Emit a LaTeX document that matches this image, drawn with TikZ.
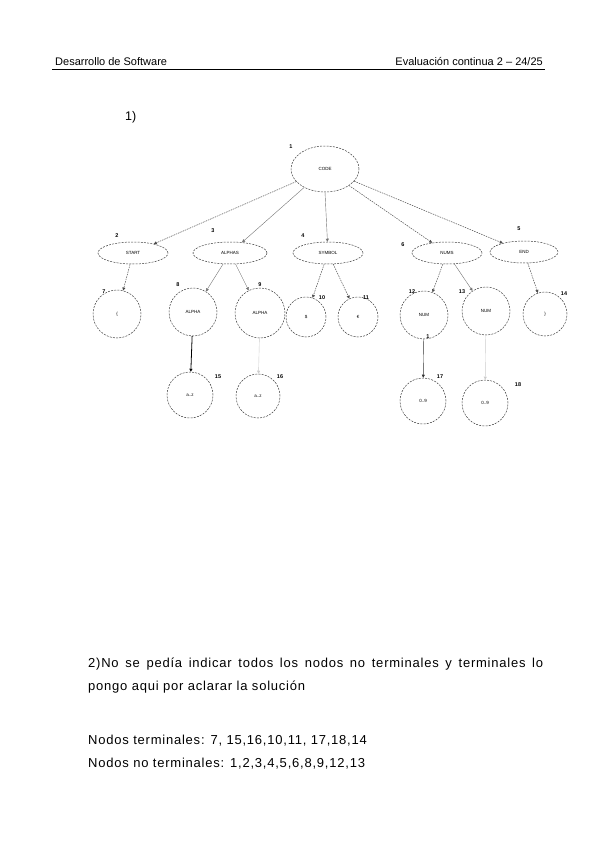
\documentclass[tikz,border=0pt]{standalone}
\usepackage{fontspec}
\setmainfont{Liberation Sans}
\setsansfont{Liberation Sans}
\newfontfamily\bodyfont[LetterSpace=6]{Liberation Sans}
\usetikzlibrary{arrows.meta}
\tikzset{
  ell/.style={draw=black!75, dash pattern=on 2pt off 1.2pt, line width=0.5pt, ellipse, minimum width=70pt, minimum height=22pt, inner sep=0pt, font=\fontsize{4.5}{5}\selectfont},
  circ/.style={draw=black!75, dash pattern=on 2pt off 1.2pt, line width=0.5pt, circle, inner sep=0pt, font=\fontsize{4.5}{5}\selectfont},
  num/.style={font=\fontsize{5.5}{6}\selectfont\bfseries, inner sep=0pt},
  dedge/.style={draw=black!70, dash pattern=on 1.5pt off 1pt, line width=0.5pt, -{Triangle[length=3pt,width=3pt]}},
  sedge/.style={draw=black!55, line width=0.4pt, -{Triangle[length=3pt,width=3pt]}},
  bedge/.style={draw=black, line width=0.8pt, -{Triangle[length=3pt,width=3pt]}},
  gedge/.style={draw=black!20, line width=0.4pt, -{Triangle[length=3pt,width=3pt]}},
  body/.style={font=\bodyfont\fontsize{13}{23}\selectfont, inner sep=0pt, anchor=base west}
}
\usetikzlibrary{shapes.geometric}
\begin{document}
\begin{tikzpicture}[x=1pt,y=-1pt]
\useasboundingbox (0,0) rectangle (600,848);
% header
\node[font=\fontsize{11}{12}\selectfont, anchor=base west, inner sep=0pt] (hl) at (55,66) {Desarrollo de Software};
\node[font=\fontsize{11}{12}\selectfont, anchor=base east, inner sep=0pt] (hr) at (543,66) {Evaluación continua 2 -- 24/25};
\coordinate (r1) at (52,69.5);
\coordinate (r2) at (545,69.5);
\draw[line width=1.8pt] (r1) -- (r2);
\node[font=\fontsize{12.5}{13}\selectfont, anchor=base west, inner sep=0pt] (q1) at (125,121) {1)};

% level 0
\node[ell, minimum width=68pt, minimum height=46pt] (code) at (325,169) {CODE};
\node[num] (l1) at (291,147) {1};
% level 1
\node[ell] (start) at (133,253) {START};
\node[num] (l2) at (117,236) {2};
\node[ell, minimum width=74pt] (alphas) at (230,253) {ALPHAS};
\node[num] (l3) at (213,231) {3};
\node[ell, minimum width=70pt] (symbol) at (328,253) {SYMBOL};
\node[num] (l4) at (303,236) {4};
\node[ell] (nums) at (447,253) {NUMS};
\node[num] (l6) at (403,245) {6};
\node[ell, minimum width=68pt] (endn) at (524,252) {END};
\node[num] (l5) at (519,229) {5};
% level 2
\node[circ, minimum size=48pt] (lb) at (117,314) {\{};
\node[num] (l7) at (104,292) {7};
\node[circ, minimum size=48pt] (a8) at (193,312) {ALPHA};
\node[num] (l8) at (178,285) {8};
\node[circ, minimum size=50pt] (a9) at (260,313) {ALPHA};
\node[num] (l9) at (260,285) {9};
\node[circ, minimum size=40pt] (dol) at (306,317) {\$};
\node[num] (l10) at (322,298) {10};
\node[circ, minimum size=40pt] (eur) at (358,317) {€};
\node[num] (l11) at (366,298) {11};
\node[circ, minimum size=48pt] (n12) at (424,315) {NUM};
\node[num] (l12) at (412,292) {12};
\node[num] (l1b) at (428,337) {1};
\node[circ, minimum size=48pt] (n13) at (486,311) {NUM};
\node[num] (l13) at (462,292) {13};
\node[circ, minimum size=44pt] (rb) at (545,314) {\}};
\node[num] (l14) at (564,294) {14};
% level 3
\node[circ, minimum size=46pt] (z15) at (190,395) {a..z};
\node[num] (l15) at (218,377) {15};
\node[circ, minimum size=44pt] (z16) at (258,396) {a..z};
\node[num] (l16) at (280,377) {16};
\node[circ, minimum size=46pt] (d17) at (423,401) {0..9};
\node[num] (l17) at (440,377) {17};
\node[circ, minimum size=46pt] (d18) at (485,403) {0..9};
\node[num] (l18) at (518,385) {18};

% edges
\draw[dedge] (code) -- (start);
\draw[sedge] (code) -- (alphas);
\draw[sedge] (code.south) -- (symbol);
\draw[dedge] (code) -- (nums);
\draw[dedge] (code) -- (endn);
\draw[dedge] (start) -- (lb);
\draw[sedge] (alphas) -- (a8);
\draw[sedge] (alphas) -- (a9);
\draw[dedge] (symbol) -- (dol);
\draw[dedge] (symbol) -- (eur);
\draw[dedge] (nums) -- (n12);
\draw[sedge] (nums) -- (n13);
\draw[dedge] (endn) -- (rb);
\draw[bedge] (a8) -- (z15);
\draw[gedge] (a9) -- (z16);
\draw[sedge, draw=black!80] (n12) -- (d17);
\draw[gedge] (n13) -- (d18);

% bottom text
\node[body, text width=455pt, align=justify, anchor=base west] (p2) at (88,667) {2)No se pedía indicar todos los nodos no terminales y terminales lo\linebreak pongo aqui por aclarar la solución};
\node[body] (t1) at (88,744) {Nodos terminales: 7, 15,16,10,11, 17,18,14};
\node[body] (t2) at (88,767) {Nodos no terminales: 1,2,3,4,5,6,8,9,12,13};
\end{tikzpicture}
\end{document}
